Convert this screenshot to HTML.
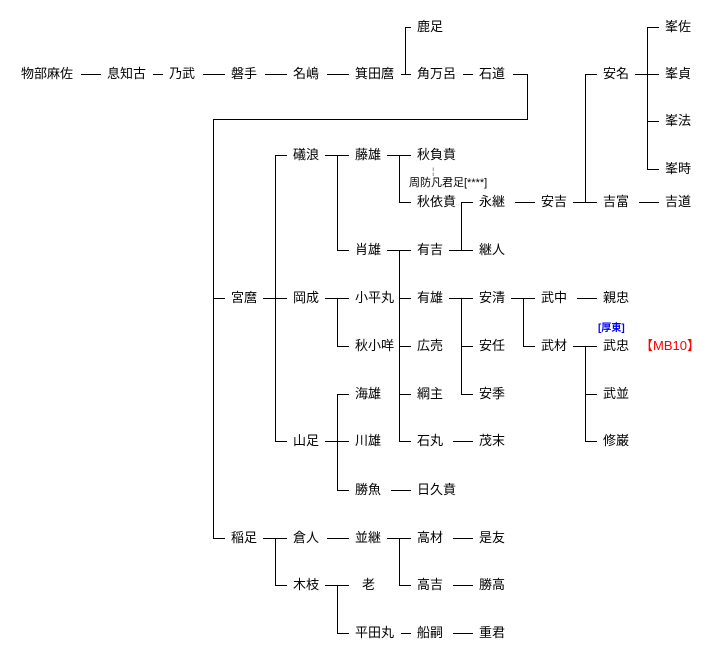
<!DOCTYPE html>
<html><head><meta charset="utf-8"><style>
body{margin:0;background:#fff;width:707px;height:660px;overflow:hidden;position:relative;font-family:"Liberation Sans","Noto Sans CJK JP",sans-serif;}
.t{position:absolute;font-size:13px;line-height:16px;color:#000;white-space:nowrap;}
svg{position:absolute;left:0;top:0;}
</style></head><body>
<svg width="707" height="660" stroke="#000" stroke-width="1" shape-rendering="crispEdges">
<g id="h"></g>
</svg>
<script>
var H=[[74,81,101],[74,153,163],[74,203,225],[74,265,287],[74,327,349],[74,401,411],[74,463,473],[74,513,527],[27,405,411],[119,213,527],
[298,213,225],[298,263,287],[155,275,287],[441,275,287],[538,213,225],[538,263,287],[585,275,287],
[155,325,349],[250,337,349],[298,325,349],[346,337,349],[441,325,349],[394,337,349],[490,337,349],[538,327,349],[585,325,349],[633,337,349],
[155,387,411],[202,399,411],[250,387,411],[298,399,411],[346,399,411],[394,399,411],[441,399,411],[490,391,411],[538,387,411],[585,399,411],[633,401,411],
[250,449,473],[202,461,473],[298,449,473],[346,461,473],[394,461,473],[441,453,473],[538,453,473],[585,453,473],[633,453,473],
[202,515,535],[298,511,535],[346,523,535],[202,573,597],[74,585,597],[298,577,597],[346,573,597],[394,585,597],[441,585,597],
[74,635,659],[27,647,659],[121,647,659],[169,647,659],[202,639,659]];
var V=[[405,27,74],[527,74,119],[213,119,538],[275,155,441],[275,538,585],[337,155,250],[337,298,346],[337,394,490],[337,585,633],
[399,155,202],[399,250,441],[399,538,585],[461,202,250],[461,298,394],[523,298,346],[585,74,202],[585,346,441],[647,27,169]];
var s='';H.forEach(function(a){s+='<line x1="'+a[1]+'" y1="'+(a[0]+.5)+'" x2="'+a[2]+'" y2="'+(a[0]+.5)+'"/>';});
V.forEach(function(a){s+='<line x1="'+(a[0]+.5)+'" y1="'+a[1]+'" x2="'+(a[0]+.5)+'" y2="'+(a[2]+1)+'"/>';});
document.getElementById('h').innerHTML=s;
var T=[[21,74,'物部麻佐'],[107,74,'息知古'],[169,74,'乃武'],[231,74,'磐手'],[293,74,'名嶋'],[355,74,'箕田麿'],[417,27,'鹿足'],[417,74,'角万呂'],[479,74,'石道'],
[231,298,'宮麿'],[231,538,'稲足'],[293,155,'礒浪'],[293,298,'岡成'],[293,441,'山足'],[293,538,'倉人'],[293,585,'木枝'],
[355,155,'藤雄'],[355,250,'肖雄'],[355,298,'小平丸'],[355,346,'秋小咩'],[355,394,'海雄'],[355,441,'川雄'],[355,490,'勝魚'],[355,538,'並継'],[362,585,'老'],[355,633,'平田丸'],
[417,155,'秋負賁'],[417,202,'秋依賁'],[417,250,'有吉'],[417,298,'有雄'],[417,346,'広売'],[417,394,'綱主'],[417,441,'石丸'],[417,490,'日久賁'],[417,538,'高材'],[417,585,'高吉'],[417,633,'船嗣'],
[479,202,'永継'],[479,250,'継人'],[479,298,'安清'],[479,346,'安任'],[479,394,'安季'],[479,441,'茂末'],[479,538,'是友'],[479,585,'勝高'],[479,633,'重君'],
[541,202,'安吉'],[541,298,'武中'],[541,346,'武材'],[603,74,'安名'],[603,202,'吉富'],[603,298,'親忠'],[603,346,'武忠'],[603,394,'武並'],[603,441,'修巌'],
[665,27,'峯佐'],[665,74,'峯貞'],[665,121,'峯法'],[665,169,'峯時'],[665,202,'吉道']];
var o='';T.forEach(function(a){o+='<div class="t" style="left:'+a[0]+'px;top:'+(a[1]-8)+'px">'+a[2]+'</div>';});
document.body.insertAdjacentHTML('beforeend',o);
</script>
<div class="t" style="left:432px;top:163px;font-size:9px;color:#666">¦</div>
<div class="t" style="left:409px;top:175px;font-size:11px">周防凡君足[****]</div>
<div class="t" style="left:598px;top:321px;font-size:10px;color:#00f;font-weight:bold">[厚東]</div>
<div class="t" style="left:640px;top:338px;color:#f00">【MB10】</div>
</body></html>
